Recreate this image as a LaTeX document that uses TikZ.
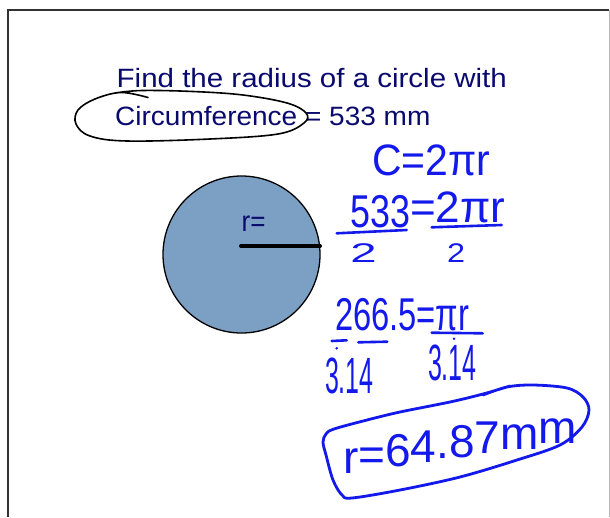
\documentclass[tikz,border=0pt]{standalone}
\usepackage{fontspec}
\setmainfont{Liberation Sans}
\definecolor{navy}{RGB}{10,10,110}
\definecolor{pen}{RGB}{20,25,235}
\definecolor{disc}{RGB}{124,159,196}
\definecolor{framecol}{RGB}{50,50,50}
\definecolor{framelight}{RGB}{185,185,185}
\begin{document}
\begin{tikzpicture}[x=1pt,y=-1pt,
  title/.style={anchor=base west, inner sep=0pt, text=navy, font=\fontsize{26.5}{30}\selectfont},
  hand/.style={anchor=base west, inner sep=0pt, text=pen},
  penline/.style={draw=pen, line width=2.6pt, line cap=round, line join=round},
  inkloop/.style={draw=black, line width=1.6pt, line cap=round},
]
\useasboundingbox (0,0) rectangle (610,517);
\fill[white] (0,0) rectangle (610,517);
% frame
\draw[framelight, line width=1pt] (609,10) -- (609,517);
\draw[framecol, line width=1.3pt] (8,517) -- (8,10) -- (609,10);

% title
\node[title, xscale=1.113] (t1) at (116.5,87.5) {Find the radius of a circle with};
\node[title, xscale=1.057] (t2) at (115,125.5) {Circumference = 533 mm};

% loop around Circumference
\draw[inkloop] plot[smooth, tension=0.6] coordinates {
  (148,97.5) (121,92.5) (95,99) (78,110) (76,124) (90,136) (127,141)
  (210,139) (278,134) (304,123) (306,113) (287,103) (243,95) (193,91.5)
  (142,90.5) (115,93)};

% circle
\node[circle, draw=black, fill=disc, line width=1.3pt, minimum size=157pt, inner sep=0pt] (disc) at (241.5,254.5) {};
\coordinate (ctr) at (241,246);
\coordinate (rim) at (320,246);
\draw[line width=4pt, line cap=round] (ctr) -- (rim);
\node[anchor=base west, inner sep=0pt, text=navy, font=\fontsize{29}{32}\selectfont, xscale=0.9] (rlab) at (241.5,231) {r=};

% handwriting
\node[hand, font=\fontsize{44}{50}\selectfont, xscale=0.93] (eq1) at (372,175) {C=2πr};

\node[hand, font=\fontsize{46}{52}\selectfont, xscale=0.78] (n533) at (350,227) {533};
\node[hand, font=\fontsize{44}{50}\selectfont, xscale=1.0] (rhs1) at (410,222) {=2πr};
\draw[penline] (336.7,233.3) -- (406.7,230);
\draw[penline] (431.7,227.3) -- (501.7,225);
\node[hand, font=\fontsize{27}{30}\selectfont, xscale=1.75] (d1) at (350,262) {2};
\node[hand, font=\fontsize{27}{30}\selectfont, xscale=1.2] (d2) at (447,262) {2};

\node[hand, font=\fontsize{46}{52}\selectfont, xscale=0.71] (eq3) at (335,330) {266.5=πr};
\draw[penline] (331.7,341) -- (346.7,340.3);
\fill[pen] (336.7,348.3) circle (1.4);
\draw[penline] (358.3,342.3) -- (387.3,341.7);
\draw[penline] (431.7,332.7) -- (482.7,333.3);
\fill[pen] (454,338.7) circle (1.4);
\node[hand, font=\fontsize{51}{56}\selectfont, xscale=0.49] (den1) at (325,393) {3.14};
\node[hand, font=\fontsize{51}{56}\selectfont, xscale=0.49] (den2) at (428,380) {3.14};

% answer, written on a rising line
\node[hand, font=\fontsize{46}{52}\selectfont] (ans) at (343,473)
  {r\raisebox{2.3pt}{=}\raisebox{6.4pt}{6}\raisebox{10.3pt}{4}\raisebox{14.1pt}{.}\raisebox{16pt}{8}\raisebox{19.8pt}{7}\raisebox{23.8pt}{m}\raisebox{29.5pt}{m}};
\draw[penline, line width=2.8pt] plot[smooth, tension=0.55] coordinates {
  (483,395) (507,387) (533,385) (567,388) (583,397) (589,410) (582,427)
  (560,445) (517,460) (460,477) (400,490) (352,498) (342,495) (333,480)
  (326,455) (323,442) (326,434) (334,429) (367,420) (400,412) (450,402)
  (483,394) (510,386)};
\end{tikzpicture}
\end{document}
